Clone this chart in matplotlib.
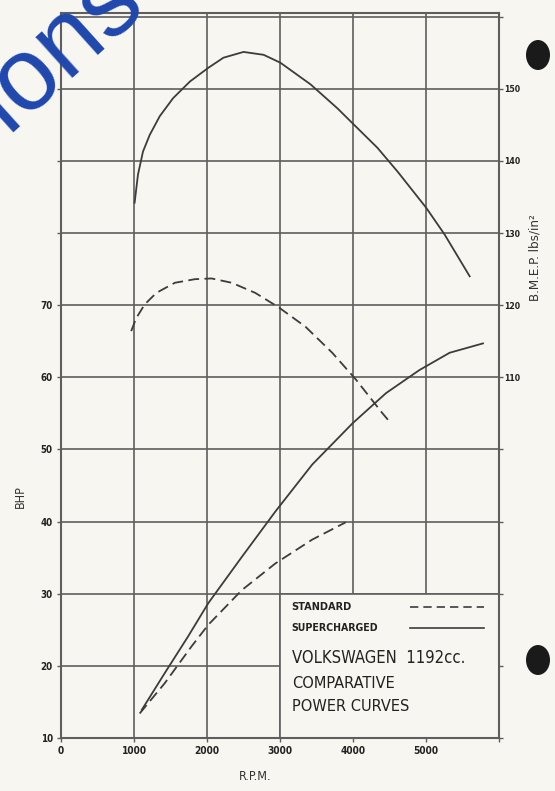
import matplotlib
matplotlib.use('Agg')
import matplotlib.pyplot as plt
from matplotlib import font_manager
from matplotlib.patches import Rectangle, Ellipse

# --- datos ---
# BMEP (eje derecho), sobrealimentado
rpm_bmep_sup = [1008, 1054, 1123, 1215, 1353, 1536, 1766, 2018, 2225, 2500,
                2776, 3006, 3419, 3785, 4015, 4336, 4612, 5003, 5255, 5599]
bmep_sup = [134.2, 138.1, 141.3, 143.6, 146.2, 148.7, 151.0, 152.9, 154.3, 155.1,
            154.7, 153.6, 150.6, 147.3, 145.0, 141.8, 138.5, 133.5, 129.8, 124.0]

# BMEP, estandar
rpm_bmep_std = [961, 1030, 1146, 1306, 1559, 1835, 2063, 2339, 2661, 2982,
                3350, 3716, 4039, 4405, 4497]
bmep_std = [116.4, 118.2, 120.1, 121.7, 123.1, 123.6, 123.7, 123.1, 121.7, 119.7,
            117.0, 113.4, 109.7, 105.0, 103.9]

# BHP (eje izquierdo), sobrealimentado
rpm_bhp_sup = [1106, 1421, 1742, 2018, 2477, 2937, 3441, 3992, 4452, 4910, 5324, 5782]
bhp_sup = [13.9, 19.0, 24.1, 28.7, 35.1, 41.4, 47.9, 53.6, 57.8, 61.0, 63.4, 64.7]

# BHP, estandar
rpm_bhp_std = [1077, 1421, 1788, 2018, 2477, 2937, 3441, 3901]
bhp_std = [13.4, 17.6, 22.7, 25.7, 30.5, 34.2, 37.5, 39.9]

rpm_ticks = [0, 1000, 2000, 3000, 4000, 5000, 6000]
rpm_labels = ['0', '1000', '2000', '3000', '4000', '5000', '']
bhp_ticks = list(range(10, 111, 10))
bhp_labels = ['10', '20', '30', '40', '50', '60', '70', '', '', '', '']
bmep_ticks = list(range(60, 161, 10))
bmep_labels = ['', '', '', '', '', '110', '120', '130', '140', '150', '']

# --- fuente estrecha si existe ---
names = {f.name for f in font_manager.fontManager.ttflist}
if 'Liberation Sans Narrow' in names:
    FNT = dict(family='Liberation Sans Narrow')
    k = 1.0
elif any(f.name == 'DejaVu Sans' and f.stretch == 'condensed'
         for f in font_manager.fontManager.ttflist):
    FNT = dict(family='DejaVu Sans', stretch='condensed')
    k = 0.85
else:
    FNT = dict(family='Liberation Sans')
    k = 0.82

papel = '#f8f6f0'
tinta = '#3c3c3c'
rejilla = '#5e5e5e'

fig = plt.figure(figsize=(5.55, 7.91), dpi=100, facecolor=papel)
ax = fig.add_axes([0.110, 0.067, 0.789, 0.9166], facecolor=papel)

ax.set_xlim(0, 6000)
ax.set_ylim(10, 110.5)
ax.set_xticks(rpm_ticks)
ax.set_xticklabels(rpm_labels, fontweight='bold', fontsize=7.3, **FNT)
ax.set_yticks(bhp_ticks)
ax.set_yticklabels(bhp_labels, fontweight='bold', fontsize=7, **FNT)
ax.grid(True, color=rejilla, linewidth=1.2)
ax.set_axisbelow(True)
ax.tick_params(length=3, width=1, color=rejilla, labelcolor='#222222', pad=3)
for s in ax.spines.values():
    s.set_color(rejilla)
    s.set_linewidth(1.5)

ax2 = ax.twinx()
ax2.set_ylim(60, 160.5)
ax2.set_yticks(bmep_ticks)
ax2.set_yticklabels(bmep_labels, fontweight='bold', fontsize=6.2, **FNT)
ax2.tick_params(length=3, width=1, color=rejilla, labelcolor='#222222', pad=1)
for s in ax2.spines.values():
    s.set_visible(False)

# curvas
ax2.plot(rpm_bmep_sup, bmep_sup, color=tinta, lw=1.3)
ax2.plot(rpm_bmep_std, bmep_std, color=tinta, lw=1.3, dashes=(6, 3))
ax.plot(rpm_bhp_sup, bhp_sup, color=tinta, lw=1.3)
ax.plot(rpm_bhp_std, bhp_std, color=tinta, lw=1.3, dashes=(6, 3))

# cuadro de leyenda
ax.add_patch(Rectangle((3000, 10), 3000, 20, facecolor=papel, edgecolor=rejilla,
                       lw=1.2, zorder=1))
ax.text(3160, 28.2, 'STANDARD', fontsize=7.8, fontweight='bold', va='center',
        color='#222222', **FNT)
ax.text(3160, 25.3, 'SUPERCHARGED', fontsize=7.6, fontweight='bold', va='center',
        color='#222222', **FNT)
ax.plot([4780, 5800], [28.2, 28.2], color=tinta, lw=1.2, dashes=(5, 3))
ax.plot([4780, 5800], [25.3, 25.3], color=tinta, lw=1.2)
ax.text(3160, 21.1, 'VOLKSWAGEN  1192cc.', fontsize=14 * k, va='center',
        color='#222222', **FNT)
ax.text(3160, 17.6, 'COMPARATIVE', fontsize=13.8 * k, va='center',
        color='#222222', **FNT)
ax.text(3160, 14.4, 'POWER CURVES', fontsize=13.8 * k, va='center',
        color='#222222', **FNT)

# rotulos de ejes
fig.text(20 / 555, 1 - 497 / 791, 'BHP', rotation=90, ha='center', va='center',
         fontsize=9, color='#333333', **FNT)
fig.text(255 / 555, 1 - 776 / 791, 'R.P.M.', ha='center', va='center',
         fontsize=9, color='#333333', **FNT)
fig.text(535 / 555, 1 - 258 / 791, 'B.M.E.P. lbs/in\u00b2', rotation=90,
         ha='center', va='center', fontsize=9.5, color='#333333', **FNT)

# marcas del escaneo (agujeros y sello)
for yy in (55, 660):
    fig.patches.append(Ellipse((538 / 555, 1 - yy / 791), 24 / 555, 30 / 791,
                               transform=fig.transFigure, facecolor='#1a1a1a',
                               edgecolor='none'))
fig.text(41 / 555, 1 - 68 / 791, 'sions', rotation=42, rotation_mode='anchor',
         ha='center', va='center', fontsize=74, color='#1f47ad',
         family='Liberation Sans')

fig.savefig('out.png', dpi=100, facecolor=papel)
